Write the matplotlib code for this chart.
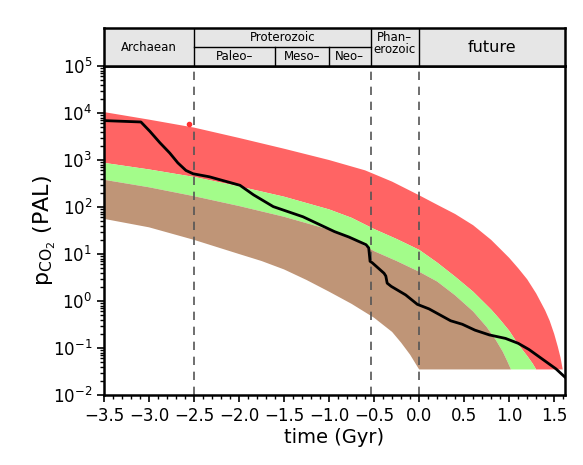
import numpy as np
import matplotlib
matplotlib.use('Agg')
import matplotlib.pyplot as plt
from matplotlib.ticker import LogLocator, MultipleLocator

# band edges: time (Gyr) and pCO2 (PAL)
rt_t = [-3.5, -3.0, -2.5, -2.0, -1.5, -1.0, -0.6, -0.3, 0.0, 0.2, 0.4, 0.6, 0.8, 0.9,
        1.0, 1.1, 1.2, 1.3, 1.4, 1.45, 1.5, 1.54, 1.57, 1.595, 1.62]
rt_v = [10470, 7240, 4900, 2950, 1740, 1000, 603, 347, 178, 112, 71, 41, 20, 12.9,
        8.3, 5.0, 2.9, 1.45, 0.63, 0.38, 0.2, 0.107, 0.063, 0.035, 0.035]

gt_t = [-3.5, -3.0, -2.5, -2.0, -1.5, -1.0, -0.75, -0.5, -0.25, 0.0, 0.2, 0.4, 0.6,
        0.8, 0.9, 1.0, 1.1, 1.2, 1.26, 1.3, 1.62]
gt_v = [871, 631, 437, 275, 166, 89, 59, 34, 20.9, 12.3, 6.6, 3.3, 1.58,
        0.66, 0.40, 0.234, 0.12, 0.068, 0.047, 0.035, 0.035]

bt_t = [-3.5, -3.0, -2.5, -2.0, -1.5, -1.0, -0.75, -0.5, -0.25, 0.0, 0.2, 0.4, 0.6,
        0.75, 0.85, 0.93, 0.98, 1.02, 1.62]
bt_v = [380, 263, 170, 105, 62, 33, 21.4, 11.5, 7.1, 4.2, 2.6, 1.32, 0.60,
        0.28, 0.15, 0.083, 0.052, 0.035, 0.035]

bb_t = [-3.5, -3.0, -2.5, -2.0, -1.75, -1.5, -1.25, -1.0, -0.75, -0.5, -0.3, -0.2,
        -0.1, 0.0, 1.62]
bb_v = [56, 37, 20, 10, 7.1, 4.7, 2.8, 1.58, 0.87, 0.44, 0.22, 0.13,
        0.072, 0.035, 0.035]

# model pCO2 curve
line_t = [-3.5, -3.09, -2.99, -2.88, -2.77, -2.68, -2.59, -2.51, -2.33, -1.99, -1.84,
          -1.62, -1.29, -0.94, -0.78, -0.59, -0.56, -0.545, -0.52, -0.39, -0.37, -0.355,
          -0.31, -0.15, -0.02, 0.11, 0.35, 0.48, 0.62, 0.78, 0.96, 1.1, 1.22, 1.41, 1.52, 1.62]
line_v = [6900, 6450, 4070, 2340, 1410, 870, 600, 510, 440, 290, 182,
          102, 62, 30, 23, 15.8, 13.5, 7.0, 6.5, 3.9, 3.4, 2.4,
          2.05, 1.35, 0.85, 0.68, 0.38, 0.32, 0.24, 0.19, 0.16, 0.126, 0.093, 0.051, 0.036, 0.024]

dot_t, dot_v = -2.56, 5750

boundaries = [-2.5, -0.54, 0.0]


def band(ax, top_t, top_v, bot_t, bot_v, color):
    xs = list(top_t) + list(bot_t[::-1])
    ys = list(top_v) + list(bot_v[::-1])
    ax.fill(xs, ys, color=color, lw=0)


fig = plt.figure(figsize=(5.83, 4.65), dpi=100)
ax = fig.add_axes([0.1784, 0.1505, 0.7907, 0.7075])

band(ax, rt_t, rt_v, gt_t, gt_v, '#ff6464')
band(ax, gt_t, gt_v, bt_t, bt_v, '#a3fc8a')
band(ax, bt_t, bt_v, bb_t, bb_v, '#bf9577')
for b in boundaries:
    ax.axvline(b, color='#555555', lw=1.2, ls=(0, (5, 4)))
ax.plot(line_t, line_v, color='black', lw=2)
ax.plot(dot_t, dot_v, 'o', color='#ff3030', ms=3)

ax.set_yscale('log')
ax.set_xlim(-3.5, 1.62)
ax.set_ylim(1e-2, 1e5)
ax.xaxis.set_major_locator(MultipleLocator(0.5))
ax.xaxis.set_minor_locator(MultipleLocator(0.1))
ax.yaxis.set_major_locator(LogLocator(base=10, numticks=10))
ax.yaxis.set_minor_locator(LogLocator(base=10, subs=np.arange(2, 10), numticks=20))
ax.tick_params(which='major', length=5, width=1.2, labelsize=12, right=False, top=False)
ax.tick_params(which='minor', length=3, width=1)
for s in ax.spines.values():
    s.set_linewidth(1.8)
ax.set_xlabel('time (Gyr)', fontsize=14, labelpad=2)
ax.set_ylabel(r'p$_{\mathrm{CO_2}}$ (PAL)', fontsize=16)
ax.yaxis.set_label_coords(-0.10, 0.5)

# era header
hd = fig.add_axes([0.1784, 0.858, 0.7907, 0.0817])
hd.set_facecolor('#e6e6e6')
hd.set_xlim(-3.5, 1.62)
hd.set_ylim(0, 1)
hd.set_xticks([])
hd.set_yticks([])
for s in hd.spines.values():
    s.set_linewidth(1.8)
for b in boundaries:
    hd.axvline(b, color='black', lw=1)
hd.plot([-2.5, -0.54], [0.5, 0.5], color='black', lw=1)
hd.plot([-1.6, -1.6], [0, 0.5], color='black', lw=1)
hd.plot([-1.0, -1.0], [0, 0.5], color='black', lw=1)
hd.text(-3.0, 0.5, 'Archaean', ha='center', va='center', fontsize=8.5)
hd.text(-1.52, 0.74, 'Proterozoic', ha='center', va='center', fontsize=8.5)
hd.text(-2.05, 0.25, 'Paleo\u2013', ha='center', va='center', fontsize=8.5)
hd.text(-1.3, 0.25, 'Meso\u2013', ha='center', va='center', fontsize=8.5)
hd.text(-0.77, 0.25, 'Neo\u2013', ha='center', va='center', fontsize=8.5)
hd.text(-0.27, 0.6, 'Phan\u2013\nerozoic', ha='center', va='center', fontsize=8.5, linespacing=0.9)
hd.text(0.81, 0.5, 'future', ha='center', va='center', fontsize=11.5)

fig.savefig('out.png', dpi=100)
